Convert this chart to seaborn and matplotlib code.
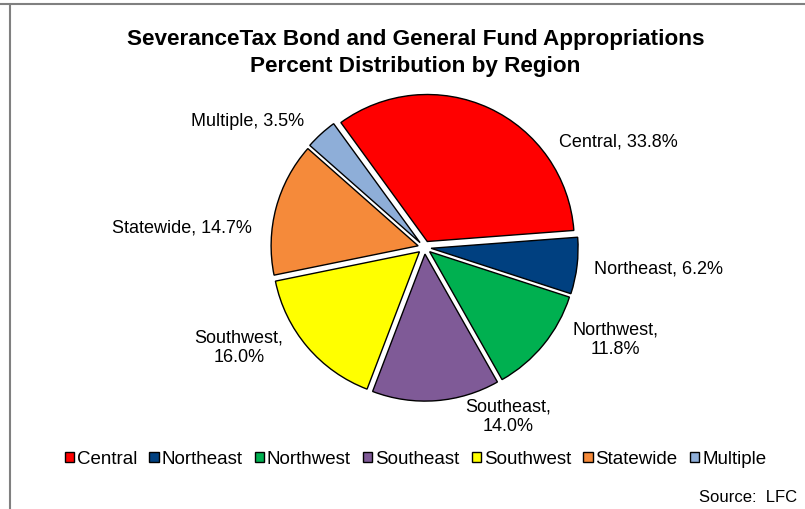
import numpy as np
import matplotlib
matplotlib.use("Agg")
import matplotlib.pyplot as plt
import seaborn as sns
from matplotlib.lines import Line2D
from matplotlib.patches import Patch

sns.set_theme(style="white")
plt.rcParams["font.family"] = ["Liberation Sans", "DejaVu Sans"]
plt.rcParams["text.color"] = "black"

regions = ["Central", "Northeast", "Northwest", "Southeast", "Southwest", "Statewide", "Multiple"]
shares = [33.8, 6.2, 11.8, 14.0, 16.0, 14.7, 3.5]
colors = ["#FF0000", "#004080", "#00B050", "#7F5A97", "#FFFF00", "#F58A3A", "#8EAED8"]
label_text = ["Central, 33.8%", "Northeast, 6.2%", "Northwest,\n11.8%", "Southeast,\n14.0%",
              "Southwest,\n16.0%", "Statewide, 14.7%", "Multiple, 3.5%"]
# label anchors in pie-radius units, relative to the pie centre
label_pos = [(1.316, 0.718), (1.595, -0.146), (1.296, -0.629), (0.568, -1.153),
             (-1.262, -0.684), (-1.650, 0.133), (-1.207, 0.854)]

W, H, DPI = 805, 509, 100
fig = plt.figure(figsize=(W / DPI, H / DPI), dpi=DPI)
fig.patch.set_facecolor("white")

# axes spanning the figure; pie centre and radius given in pixels
cx, cy, ppu = 424.5, 247.5, 147.0
ax = fig.add_axes([0, 0, 1, 1])

wedges, _ = ax.pie(
    shares,
    colors=colors,
    startangle=126,
    counterclock=False,
    explode=[0.045] * len(shares),
    radius=1.0,
    wedgeprops=dict(edgecolor="black", linewidth=1.0),
)
ax.set_xlim(-cx / ppu, (W - cx) / ppu)
ax.set_ylim(-(H - cy) / ppu, cy / ppu)
ax.set_aspect("equal")
ax.axis("off")

for txt, (lx, ly) in zip(label_text, label_pos):
    ax.text(lx, ly, txt, ha="center", va="center", fontsize=13, color="black",
            linespacing=1.2)

fig.text(0.516, 1 - 53 / H,
         "SeveranceTax Bond and General Fund Appropriations\nPercent Distribution by Region",
         ha="center", va="center", fontsize=16.2, fontweight="bold", linespacing=1.32)

handles = [Patch(facecolor=c, edgecolor="black", linewidth=1.0) for c in colors]
fig.legend(handles, regions, loc="center", bbox_to_anchor=(0.516, 1 - 459 / H), ncol=7,
           frameon=False, fontsize=13.5, handlelength=0.5, handleheight=0.5,
           handletextpad=0.15, columnspacing=0.65, borderaxespad=0, borderpad=0,
           labelcolor="black")

fig.text(797 / W, 1 - 497 / H, "Source:  LFC", ha="right", va="center", fontsize=12)

# chart-area border lines
fig.add_artist(Line2D([0, 1], [1 - 3.5 / H, 1 - 3.5 / H], color="#808080", linewidth=1.5,
                      transform=fig.transFigure))
fig.add_artist(Line2D([9.5 / W, 9.5 / W], [0, 1 - 3.5 / H], color="#808080", linewidth=1.5,
                      transform=fig.transFigure))

fig.savefig("out.png", dpi=DPI, facecolor="white")
